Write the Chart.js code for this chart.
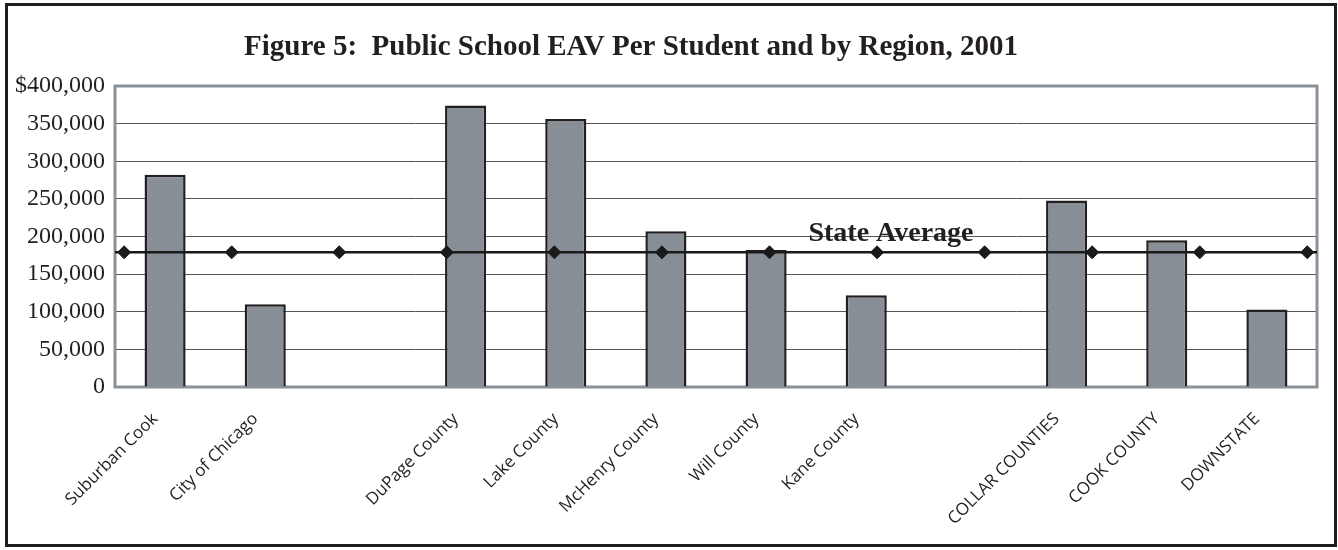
<!DOCTYPE html>
<html>
<head>
<meta charset="utf-8">
<script src="https://cdn.jsdelivr.net/npm/chart.js@4/dist/chart.umd.min.js"></script>
<style>
  body { margin: 0; background: #fff; }
  canvas { display: block; }
</style>
</head>
<body>
<canvas id="eavChart" width="1338" height="550"></canvas>
<script>
// regions on the category axis; blank slots separate the groups
const regions = ["Suburban Cook", "City of Chicago", "", "DuPage County", "Lake County", "McHenry County",
	"Will County", "Kane County", "", "COLLAR COUNTIES", "COOK COUNTY", "DOWNSTATE"];
const eavPerStudent = [282000, 110000, null, 374000, 356000, 207000, 182000, 122000, null, 248000, 195000, 103000];
const stateAverage = [179000, 179000, 179000, 179000, 179000, 179000, 179000, 179000, 179000, 179000, 179000, 179000];
const yTicks = [0, 50000, 100000, 150000, 200000, 250000, 300000, 350000, 400000];

const titleText = "Figure 5:  Public School EAV Per Student and by Region, 2001";
const averageLabel = "State Average";

// the average line sits on its own hidden axis so its markers spread edge to edge
const avgMin = -0.085;
const avgMax = 11.09;

const serif = "'Liberation Serif', 'Times New Roman', serif";

const framePlugin = {
	id: "frame",
	beforeDraw(chart) {
		const ctx = chart.ctx;
		ctx.save();
		ctx.fillStyle = "#fff";
		ctx.fillRect(0, 0, chart.width, chart.height);
		ctx.strokeStyle = "#1e1e1e";
		ctx.lineWidth = 3;
		ctx.strokeRect(6.5, 4.5, chart.width - 9, chart.height - 9);
		ctx.restore();
	},
	beforeDatasetsDraw(chart) {
		const a = chart.chartArea;
		const ctx = chart.ctx;
		ctx.save();
		ctx.strokeStyle = "#8a9199";
		ctx.lineWidth = 3;
		ctx.strokeRect(a.left, a.top, a.right - a.left, a.bottom - a.top);
		ctx.restore();
	},
	afterDraw(chart) {
		const ctx = chart.ctx;
		const y = chart.scales.y;
		ctx.save();
		ctx.fillStyle = "#231f20";
		ctx.textAlign = "center";
		ctx.textBaseline = "alphabetic";
		ctx.font = "bold 29px " + serif;
		ctx.fillText(titleText, 631, 55);
		ctx.font = "bold 28px " + serif;
		ctx.fillText(averageLabel, 891, y.getPixelForValue(stateAverage[0]) - 11);
		ctx.restore();
	}
};

let ctx = document.getElementById("eavChart").getContext("2d");

let chart = new Chart(ctx, {
	type: "bar",
	data: {
		labels: regions,
		datasets: [
			{
				type: "line",
				data: [{x: avgMin, y: stateAverage[0]}, {x: avgMax, y: stateAverage[stateAverage.length - 1]}],
				xAxisID: "x2",
				borderColor: "#1a1a1a",
				borderWidth: 2.5,
				pointRadius: 0,
				order: 0,
			},
			{
				type: "line",
				data: stateAverage.map((v, i) => ({x: i, y: v})),
				xAxisID: "x2",
				showLine: false,
				pointStyle: "rectRot",
				pointRadius: 6.5,
				backgroundColor: "#1a1a1a",
				borderColor: "#1a1a1a",
				borderWidth: 1,
				order: 0,
			},
			{
				data: eavPerStudent,
				xAxisID: "x",
				backgroundColor: "#878e96",
				borderColor: "#231f20",
				borderWidth: 2.5,
				grouped: false,
				categoryPercentage: 1,
				barPercentage: 0.41,
				order: 1,
			},
		],
	},
	options: {
		responsive: false,
		animation: false,
		devicePixelRatio: 1,
		layout: {
			padding: {left: 8, right: 21, top: 86, bottom: 0}
		},
		plugins: {
			legend: {display: false},
			tooltip: {enabled: false},
			title: {display: false},
		},
		scales: {
			x: {
				grid: {display: false, drawTicks: false},
				border: {display: false},
				ticks: {
					autoSkip: false,
					minRotation: 45,
					maxRotation: 45,
					padding: 22,
					labelOffset: -10,
					color: "#231f20",
					font: {family: "'Open Sans', sans-serif", size: 17},
				},
				afterFit: function(scale) {
					scale.height = 163;
				}
			},
			x2: {
				type: "linear",
				display: false,
				offset: false,
				min: avgMin,
				max: avgMax,
			},
			y: {
				min: 0,
				max: 400000,
				afterBuildTicks: function(scale) {
					scale.ticks = yTicks.map(v => ({value: v}));
				},
				grid: {color: "#555", lineWidth: 1, drawTicks: false},
				border: {display: false},
				ticks: {
					padding: 10,
					color: "#231f20",
					font: {family: serif, size: 24},
					callback: function(value) {
						const text = value.toLocaleString("en-US");
						if (value === 400000) {
							return "$" + text;
						} else {
							return text;
						}
					}
				},
				afterFit: function(scale) {
					scale.width = 107;
				}
			}
		},
	},
	plugins: [framePlugin],
});
</script>
</body>
</html>
